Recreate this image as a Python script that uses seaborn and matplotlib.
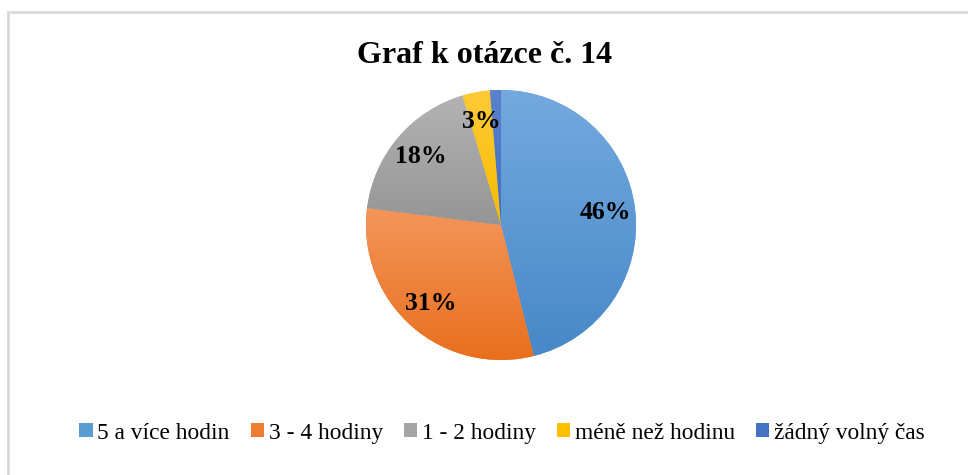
import matplotlib.pyplot as plt
import seaborn as sns
import numpy as np
from matplotlib.colors import LinearSegmentedColormap
from matplotlib.patches import Patch, Rectangle

sns.set_theme(style="white")
plt.rcParams["font.family"] = ["Liberation Serif", "DejaVu Serif"]
plt.rcParams["text.color"] = "black"

categories = ["5 a více hodin", "3 - 4 hodiny", "1 - 2 hodiny", "méně než hodinu", "žádný volný čas"]
shares = [46.1, 30.9, 18.4, 3.3, 1.3]
pct_labels = ["46%", "31%", "18%", "3%", ""]

# light (top) / dark (bottom) of each slice's gradient
top_colors = ["#74a9de", "#f4955b", "#b3b3b3", "#ffca38", "#5a82cc"]
bottom_colors = ["#4788c8", "#e86f1c", "#959595", "#f8bc00", "#3f6ec0"]
mid_colors = sns.color_palette(["#5b9bd5", "#ed7d31", "#a5a5a5", "#ffc000", "#4472c4"])

fig = plt.figure(figsize=(9.68, 4.75), dpi=100)
fig.patch.set_facecolor("white")

# chart area border (left and top edge visible)
fig.patches.append(Rectangle((7.5 / 968, -0.1), 1.2, (475 - 12) / 475 + 0.1,
                             transform=fig.transFigure, fill=False,
                             ec="#d9d9d9", lw=2))

ax = fig.add_axes([(501 - 135) / 968, (250 - 135) / 475, 270 / 968, 270 / 475])
wedges, texts = ax.pie(shares, colors=mid_colors, startangle=90, counterclock=False,
                       labels=pct_labels, labeldistance=0.78,
                       wedgeprops=dict(linewidth=0),
                       textprops=dict(fontsize=18.5, fontweight="bold", color="black"))

grad = np.linspace(0, 1, 256).reshape(-1, 1)
for w, c0, c1 in zip(wedges, bottom_colors, top_colors):
    bb = w.get_path().get_extents()
    cmap = LinearSegmentedColormap.from_list("g", [c0, c1])
    im = ax.imshow(grad, cmap=cmap, origin="lower", aspect="auto",
                   extent=(bb.x0, bb.x1, bb.y0, bb.y1), zorder=1.5)
    im.set_clip_path(w)
for t in texts:
    t.set_zorder(3)
    t.set_ha("center")
    t.set_va("center")

ax.set_xlim(-1, 1)
ax.set_ylim(-1, 1)
ax.set_aspect("equal")
ax.axis("off")

fig.text(0.501, 0.884, "Graf k otázce č. 14", ha="center", va="center",
         fontsize=23, fontweight="bold", color="black")

handles = [Patch(facecolor=c, edgecolor="none") for c in mid_colors]
fig.legend(handles, categories, loc="center", bbox_to_anchor=(0.5186, 0.0884),
           ncol=5, frameon=False, fontsize=16.8, handlelength=0.57, handleheight=0.57,
           handletextpad=0.2, columnspacing=0.9, borderpad=0, labelcolor="black")

fig.savefig("out.png", dpi=100)
